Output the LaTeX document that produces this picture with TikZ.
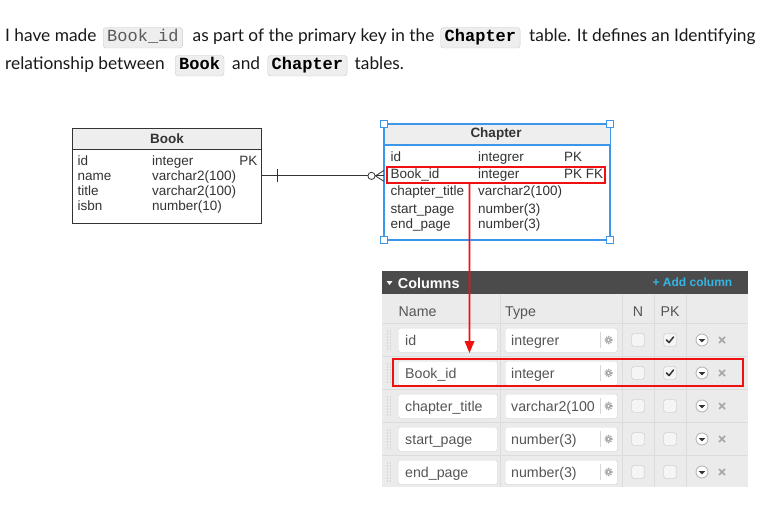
\documentclass[tikz,border=0pt]{standalone}
\usepackage{fontspec}
\setmainfont{Lato}
\newfontfamily\arialf{Liberation Sans}
\newfontfamily\courf{Liberation Mono}
\usetikzlibrary{arrows.meta,calc}
\definecolor{codebg}{HTML}{EEEEEE}
\definecolor{codeborder}{HTML}{CCCCCC}
\definecolor{selblue}{HTML}{3D96EA}
\definecolor{hdrgray}{HTML}{EEEEEE}
\definecolor{bargray}{HTML}{4B4B4B}
\definecolor{addblue}{HTML}{33B5E5}
\definecolor{panelbg}{HTML}{EBEBEB}
\definecolor{sepcol}{HTML}{DCDCDC}
\definecolor{boxline}{HTML}{D6D6D6}
\definecolor{uitext}{HTML}{555555}
\definecolor{ertext}{HTML}{333333}
\definecolor{hlred}{RGB}{240,16,16}
\begin{document}
\begin{tikzpicture}[x=1pt,y=-1pt,
  ptxt/.style={anchor=base west, inner sep=0, font={\fontsize{17.3}{20}\selectfont}, text=black!90},
  code/.style={anchor=base west, draw=codeborder, fill=codebg, rounded corners=3pt,
     inner xsep=4pt, inner ysep=2.5pt, text height=12pt, text depth=3.5pt,
     font={\courf\fontsize{17}{17}\selectfont}},
  ertxt/.style={anchor=base west, inner sep=0, font={\arialf\fontsize{13.5}{14}\selectfont}, text=ertext},
  erhead/.style={inner sep=0, font={\arialf\bfseries\fontsize{13.5}{14}\selectfont}, text=ertext},
  uitxt/.style={anchor=base west, inner sep=0, font={\arialf\fontsize{14.2}{15}\selectfont}, text=uitext},
  hbox/.style={draw=selblue, fill=white, line width=0.9pt, minimum size=7pt, inner sep=0},
  inbox/.style={draw=boxline, fill=white, rounded corners=1.5pt, anchor=north west, inner sep=0},
  chk/.style={draw=black!25, fill=black!4, rounded corners=2pt, minimum size=12.5pt, inner sep=0},
  hlarea/.style={anchor=north west, inner sep=0, outer sep=0},
  erline/.style={draw=ertext, line width=0.8pt}
]
\useasboundingbox[fill=white] (0,0) rectangle (758,508);

% ---------------- paragraph ----------------
\node[ptxt] (p1) at (5,42) {I have made};
\node[code, text=black!65] (c1) at (103,42) {Book\_id};
\node[ptxt] (p2) at (192.5,42) {as part of the primary key in the};
\node[code, font={\courf\bfseries\fontsize{17}{17}\selectfont}] (c2) at (440.5,42) {Chapter};
\node[ptxt] (p3) at (529,42) {table. It defines an Identifying};
\node[ptxt] (p4) at (5,70) {relationship between};
\node[code, font={\courf\bfseries\fontsize{17}{17}\selectfont}] (c3) at (175,70) {Book};
\node[ptxt] (p5) at (232,70) {and};
\node[code, font={\courf\bfseries\fontsize{17}{17}\selectfont}] (c4) at (267.5,70) {Chapter};
\node[ptxt] (p6) at (354.5,70) {tables.};

% ---------------- Book table ----------------
\node[draw=ertext, line width=0.8pt, fill=white, minimum width=189pt, minimum height=95pt,
      anchor=north west, inner sep=0] (book) at (72,128) {};
\fill[hdrgray] ([shift={(0.5,0.5)}]book.north west) rectangle ($(book.north east)+(-0.5,21)$);
\draw[erline] ($(book.north west)+(0,21)$) -- ($(book.north east)+(0,21)$);
\draw[erline] (book.north west) rectangle (book.south east);
\node[erhead] (bookh) at (167,138.5) {Book};
\node[ertxt] (b1n) at (77.5,166) {id};
\node[ertxt] (b1t) at (152,166) {integer};
\node[ertxt, anchor=base east] (b1k) at (257.5,166) {PK};
\node[ertxt] (b2n) at (77.5,181) {name};
\node[ertxt] (b2t) at (152,181) {varchar2(100)};
\node[ertxt] (b3n) at (77.5,196) {title};
\node[ertxt] (b3t) at (152,196) {varchar2(100)};
\node[ertxt] (b4n) at (77.5,211) {isbn};
\node[ertxt] (b4t) at (152,211) {number(10)};

% ---------------- Chapter table ----------------
\node[draw=selblue, line width=1.2pt, fill=white, minimum width=225pt, minimum height=115pt,
      anchor=north west, inner sep=0] (chap) at (384,124) {};
\fill[hdrgray] ([shift={(0.6,0.6)}]chap.north west) rectangle ($(chap.north east)+(-0.6,21)$);
\draw[selblue, line width=1.2pt] ($(chap.north west)+(0,21)$) -- ($(chap.north east)+(0,21)$);
\draw[selblue, line width=1.2pt] (chap.north west) rectangle (chap.south east);
\node[erhead] (chaph) at (496,134.5) {Chapter};
\node[ertxt] (h1n) at (390.5,161.5) {id};
\node[ertxt] (h1t) at (478,161.5) {integrer};
\node[ertxt] (h1k) at (564,161.5) {PK};
\node[ertxt] (h2n) at (390.5,178.5) {Book\_id};
\node[ertxt] (h2t) at (478,178.5) {integer};
\node[ertxt] (h2k) at (564,178.5) {PK FK};
\node[ertxt] (h3n) at (390.5,196) {chapter\_title};
\node[ertxt] (h3t) at (478,196) {varchar2(100)};
\node[ertxt] (h4n) at (390.5,213) {start\_page};
\node[ertxt] (h4t) at (478,213) {number(3)};
\node[ertxt] (h5n) at (390.5,228.5) {end\_page};
\node[ertxt] (h5t) at (478,228.5) {number(3)};
\node[hlarea, minimum width=218pt, minimum height=16pt] (rb1) at (386.8,166.8) {};
\draw[draw=hlred, line width=1.6pt] (rb1.north west) rectangle (rb1.south east);
\node[hbox] (hNW) at (chap.north west) {};
\node[hbox] (hNE) at (chap.north east) {};
\node[hbox] (hSW) at (chap.south west) {};
\node[hbox] (hSE) at (chap.south east) {};

% ---------------- relationship ----------------
\coordinate (cf) at (chap.west |- book.east);
\draw[erline] (book.east) -- ($(cf)+(-16,0)$);
\draw[erline] ($(book.east)+(16,-6.5)$) -- ($(book.east)+(16,6.5)$);
\draw[erline, fill=white] ($(cf)+(-12.5,0)$) circle (3.6);
\draw[erline] ($(cf)+(-8.9,0)$) -- (cf);
\draw[erline] ($(cf)+(-8.5,0)$) -- ($(cf)+(0,-5.5)$);
\draw[erline] ($(cf)+(-8.5,0)$) -- ($(cf)+(0,5.5)$);

% ---------------- Columns panel ----------------
\node[fill=panelbg, minimum width=366pt, minimum height=216pt, anchor=north west, inner sep=0] (panel) at (382,271) {};
\fill[bargray] (panel.north west) rectangle ($(panel.north east)+(0,23)$);
\fill[white] (386.5,281) -- (392.5,281) -- (389.5,285) -- cycle;
\node[anchor=base west, inner sep=0, text=white, font={\arialf\bfseries\fontsize{14.4}{15}\selectfont}] (coltitle) at (397.7,288) {Columns};
\node[anchor=base east, inner sep=0, text=addblue, font={\arialf\bfseries\fontsize{12}{13}\selectfont}] (addcol) at (732.5,286.5) {+ Add column};
% separators
\foreach \xx in {500,622,654,686} \draw[sepcol, line width=0.8pt] (\xx,294) -- (\xx,487);
\foreach \yy in {323.5,356.5,389.5,422.5,455.5} \draw[sepcol, line width=0.8pt] (382,\yy) -- (748,\yy);
\node[uitxt] (hn) at (398.5,316) {Name};
\node[uitxt] (ht) at (505,316) {Type};
\node[uitxt, anchor=base] (hN) at (638,316) {N};
\node[uitxt, anchor=base] (hPK) at (670,316) {PK};

\foreach \c/\nm/\tp/\pk [count=\i] in {340/id/integrer/1, 373/Book\_id/integer/1, 406/chapter\_title/varchar2(100/0, 439/start\_page/number(3)/0, 472/end\_page/number(3)/0}{
  \foreach \dy in {-9,-6,...,9} {
    \fill[black!30] (387.3,\c+\dy) circle (0.55);
    \fill[black!30] (390.3,\c+\dy) circle (0.55);
  }
  \node[inbox, minimum width=99pt, minimum height=24pt] (nb\i) at (398,\c-12) {};
  \node[uitxt] (nt\i) at (405,\c+5) {\nm};
  \node[inbox, minimum width=112pt, minimum height=24pt] (tb\i) at (505,\c-12) {};
  \node[uitxt] (tt\i) at (511,\c+5) {\tp};
  \draw[boxline, line width=0.8pt] (600,\c-8) -- (600,\c+8);
  \draw[black!35, line width=1.6pt, dash pattern=on 1.1pt off 1.1pt] (608.5,\c) circle (3.4);
  \fill[black!35] (608.5,\c) circle (2.6);
  \fill[white] (608.5,\c) circle (1.1);
  \node[chk] (ck\i) at (638,\c) {};
  \node[chk] (pk\i) at (670,\c) {};
  \ifnum\pk=1
    \draw[black!80, line width=1.5pt, line cap=round, line join=round] (666.5,\c) -- (669,\c+2.6) -- (673.5,\c-3);
  \fi
  \node[circle, draw=black!28, line width=0.9pt, fill=white, minimum size=12pt, inner sep=0] (dd\i) at (702,\c) {};
  \fill[black!80] (698.8,\c-0.8) -- (705.2,\c-0.8) -- (702,\c+2.4) -- cycle;
  \draw[black!35, line width=1.5pt] (719,\c-3) -- (725,\c+3);
  \draw[black!35, line width=1.5pt] (719,\c+3) -- (725,\c-3);
}
\node[hlarea, minimum width=350pt, minimum height=27pt] (rb2) at (393,359) {};
\draw[draw=hlred, line width=1.6pt] (rb2.north west) rectangle (rb2.south east);

% ---------------- red arrow (filled outline) ----------------
\coordinate (ax) at (469.5,0);
\coordinate (astart) at (rb1.south -| ax);
\coordinate (tip) at ($(rb2.north -| ax)+(0,-6)$);
\coordinate (tipbase) at ($(tip)+(0,-12)$);
\fill[hlred] ($(astart)+(-0.95,0)$) -- ($(tipbase)+(-0.95,0)$) -- ($(tipbase)+(-5,0)$) -- (tip)
   -- ($(tipbase)+(5,0)$) -- ($(tipbase)+(0.95,0)$) -- ($(astart)+(0.95,0)$) -- cycle;
\end{tikzpicture}
\end{document}
